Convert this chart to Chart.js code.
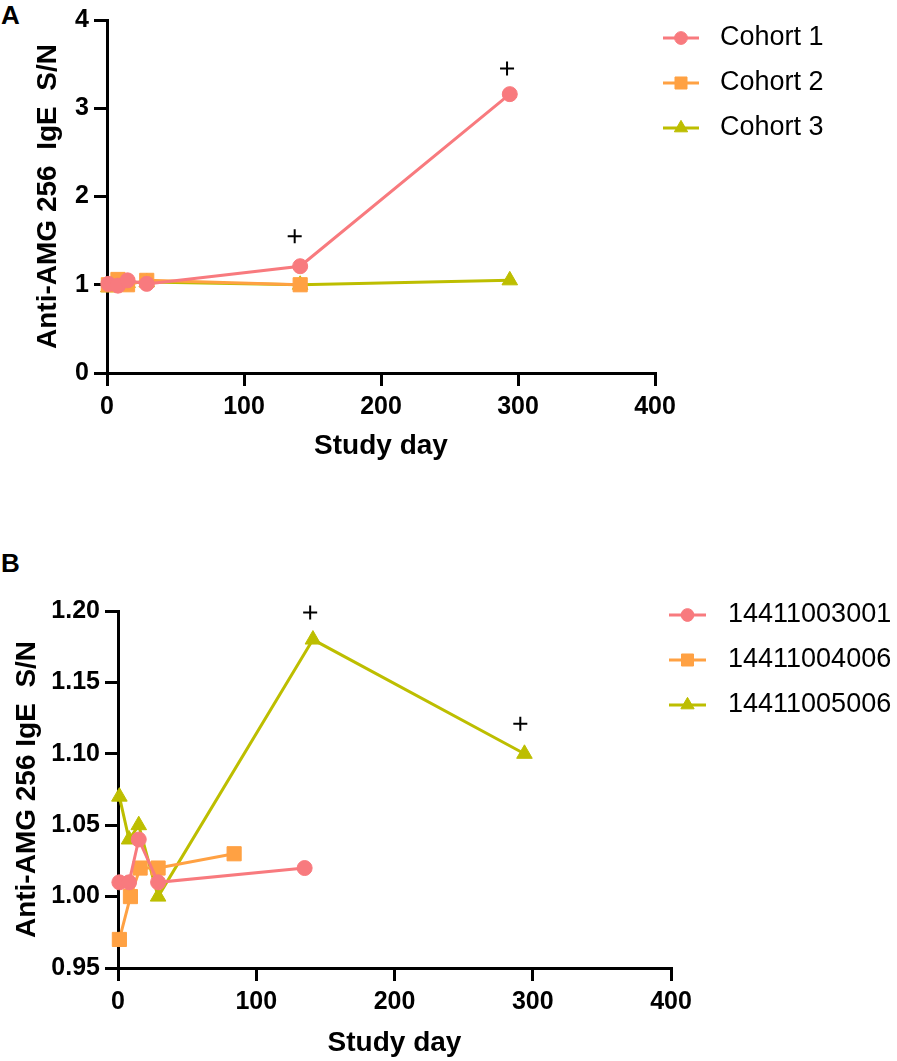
<!DOCTYPE html>
<html>
<head>
<meta charset="utf-8">
<script src="https://cdn.jsdelivr.net/npm/chart.js@4/dist/chart.umd.min.js"></script>
<style>
  body { margin: 0; background: #fff; width: 897px; height: 1061px; position: relative; overflow: hidden; }
  .panel { position: absolute; left: 0; }
  .tag { position: absolute; left: 1px; font: bold 26px "Liberation Sans", Arial, sans-serif; color: #000; }
</style>
</head>
<body>
<div class="tag" style="top:0px">A</div>
<div class="tag" style="top:548px">B</div>
<div class="panel" style="top:0"><canvas id="chartA" width="897" height="470"></canvas></div>
<div class="panel" style="top:560px"><canvas id="chartB" width="897" height="501"></canvas></div>
<script>
// Панель A: когорты
const cohortDays1 = [1, 8, 15, 29, 141, 294];
const cohort1 = [1.01, 0.99, 1.05, 1.01, 1.21, 3.16];
const cohortDays2 = [1, 8, 15, 29, 141];
const cohort2 = [1.0, 1.06, 1.0, 1.05, 1.0];
const cohortDays3 = [1, 8, 15, 29, 141, 294];
const cohort3 = [0.97, 1.0, 1.02, 1.03, 1.0, 1.05];
const plusDaysA = [137, 292];
const plusValsA = [1.55, 3.45];

// Панель B: отдельные пациенты
const subjectDays1 = [1, 8, 15, 29, 135];
const subject1 = [1.01, 1.01, 1.04, 1.01, 1.02];
const subjectDays2 = [1, 9, 16, 29, 84];
const subject2 = [0.97, 1.0, 1.02, 1.02, 1.03];
const subjectDays3 = [1, 8, 15, 29, 141, 294];
const subject3 = [1.07, 1.04, 1.05, 1.0, 1.18, 1.10];
const plusDaysB = [139, 291];
const plusValsB = [1.199, 1.121];

const xTicks = [0, 100, 200, 300, 400];

const PINK = '#F87A7E';
const ORANGE = '#FFA143';
const OLIVE = '#BDBE00';
const FONT = '"Liberation Sans", Arial, sans-serif';

Chart.defaults.color = '#000';
Chart.defaults.font.family = FONT;

function pts(days, vals) {
    return days.map((d, i) => ({ x: d, y: vals[i] }));
}

function series(label, days, vals, color, style, radius) {
    return {
        label: label,
        data: pts(days, vals),
        borderColor: color,
        backgroundColor: color,
        pointBackgroundColor: color,
        pointBorderColor: color,
        pointBorderWidth: 1,
        pointStyle: style,
        pointRadius: radius,
        borderWidth: 3,
        tension: 0,
        clip: false
    };
}

function plusSet(days, vals) {
    return {
        label: '+',
        skipLegend: true,
        data: pts(days, vals),
        showLine: false,
        pointStyle: 'cross',
        pointRadius: 7,
        pointBorderWidth: 2,
        pointBorderColor: '#000',
        borderColor: '#000',
        clip: false
    };
}

// Легенда справа: линия с маркером и подпись
const sideLegend = {
    id: 'sideLegend',
    afterDraw(chart, args, opts) {
        const ctx = chart.ctx;
        ctx.save();
        ctx.font = '27px ' + FONT;
        ctx.textBaseline = 'middle';
        let row = 0;
        chart.data.datasets.forEach(ds => {
            if (ds.skipLegend) return;
            const y = opts.top + row * opts.gap;
            ctx.strokeStyle = ds.borderColor;
            ctx.lineWidth = 3;
            ctx.beginPath();
            ctx.moveTo(opts.x, y);
            ctx.lineTo(opts.x + opts.len, y);
            ctx.stroke();
            ctx.fillStyle = ds.backgroundColor;
            ctx.lineWidth = 1;
            Chart.helpers.drawPoint(ctx, { pointStyle: ds.pointStyle, radius: ds.pointRadius * 0.85, rotation: 0, borderWidth: 1 }, opts.x + opts.len / 2, y);
            ctx.fillStyle = '#000';
            ctx.fillText(ds.label, opts.textX, y);
            row++;
        });
        ctx.restore();
    }
};

function axisStyle() {
    return {
        grid: { display: true, drawOnChartArea: false, drawTicks: true, tickLength: 13, tickWidth: 3, tickColor: '#000', color: '#000', lineWidth: 3 },
        border: { display: true, color: '#000', width: 3 }
    };
}

function makeChart(id, datasets, cfg) {
    const x = axisStyle();
    const y = axisStyle();
    return new Chart(document.getElementById(id), {
        type: 'line',
        data: { datasets: datasets },
        options: {
            responsive: false,
            animation: false,
            events: [],
            layout: { padding: { top: cfg.top, right: cfg.right, left: 0, bottom: 0 } },
            plugins: {
                legend: { display: false },
                tooltip: { enabled: false },
                sideLegend: cfg.legend
            },
            scales: {
                x: Object.assign(x, {
                    type: 'linear',
                    min: 0,
                    max: 400,
                    afterBuildTicks: s => { s.ticks = xTicks.map(v => ({ value: v })); },
                    afterFit: s => { s.height = cfg.xHeight; },
                    ticks: { font: { size: 25, weight: 'bold' }, padding: 6, maxRotation: 0 },
                    title: { display: true, text: 'Study day', font: { size: 28, weight: 'bold' }, padding: { top: 0, bottom: cfg.xTitlePad } }
                }),
                y: Object.assign(y, {
                    type: 'linear',
                    min: cfg.yMin,
                    max: cfg.yMax,
                    afterFit: s => { s.width = cfg.yWidth; },
                    ticks: { stepSize: cfg.yStep, font: { size: 25, weight: 'bold' }, padding: 5, callback: cfg.yFmt },
                    title: { display: true, text: cfg.yTitle, font: { size: 28, weight: 'bold' }, padding: { top: cfg.yTitlePad, bottom: 0 } }
                })
            }
        },
        plugins: [sideLegend]
    });
}

makeChart('chartA', [
    series('Cohort 1', cohortDays1, cohort1, PINK, 'circle', 7.5),
    series('Cohort 2', cohortDays2, cohort2, ORANGE, 'rect', 10),
    series('Cohort 3', cohortDays3, cohort3, OLIVE, 'triangle', 9),
    plusSet(plusDaysA, plusValsA)
], {
    top: 15, right: 242, xHeight: 97, yWidth: 107,
    yMin: 0, yMax: 4, yStep: 1, yFmt: v => String(v),
    yTitle: 'Anti-AMG 256  IgE  S/N', yTitlePad: 31, xTitlePad: 7,
    legend: { x: 663, len: 36, top: 38, gap: 45, textX: 720 }
});

makeChart('chartB', [
    series('14411003001', subjectDays1, subject1, PINK, 'circle', 7.5),
    series('14411004006', subjectDays2, subject2, ORANGE, 'rect', 10),
    series('14411005006', subjectDays3, subject3, OLIVE, 'triangle', 9),
    plusSet(plusDaysB, plusValsB)
], {
    top: 51, right: 226, xHeight: 93, yWidth: 118,
    yMin: 0.95, yMax: 1.20, yStep: 0.05, yFmt: v => v.toFixed(2),
    yTitle: 'Anti-AMG 256 IgE  S/N', yTitlePad: 10, xTitlePad: 1,
    legend: { x: 669, len: 37, top: 55, gap: 45, textX: 728 }
});
</script>
</body>
</html>
